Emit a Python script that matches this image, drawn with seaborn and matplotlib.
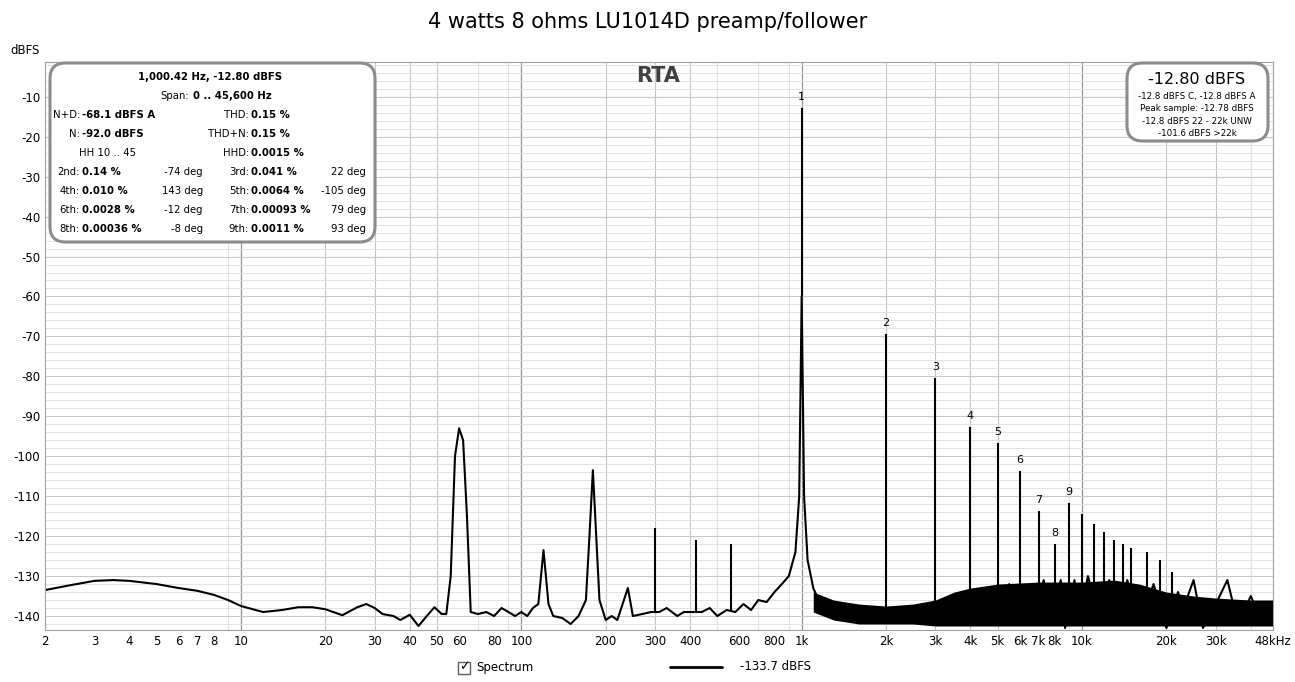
import matplotlib
matplotlib.use("Agg")
import matplotlib.pyplot as plt
from matplotlib.patches import FancyBboxPatch, Rectangle
from matplotlib.ticker import FixedLocator, NullFormatter
import numpy as np
import pandas as pd
import seaborn as sns

sns.set_style("white")
plt.rcParams['font.family'] = ['DejaVu Sans']
plt.rcParams['text.color'] = 'black'
plt.rcParams['xtick.color'] = 'black'
plt.rcParams['ytick.color'] = 'black'

# noise floor / hum (Hz, dBFS)
floor_f = [2, 2.5, 3, 3.5, 4, 5, 6, 7, 8, 9, 10, 12, 14, 16, 18, 20, 23, 26, 28, 30, 32, 35, 37, 40, 43, 46,
           49, 52, 54, 56, 58, 60, 62, 64, 66, 70, 75, 80, 85, 90, 95, 100, 105, 110, 115, 120, 125, 130,
           140, 150, 160, 170, 175, 180, 185, 190, 200, 210, 220, 240, 250, 270, 290, 310, 330, 360, 380,
           400, 440, 470, 500, 540, 580, 620, 660, 700, 750, 800, 850, 900, 950, 980, 1000, 1020, 1050,
           1100, 1150, 1200, 1300, 1400, 1500, 1600, 1700, 1800, 1900, 2050, 2200, 2400, 2600, 2800,
           3100, 3300, 3600, 3800, 4100, 4400, 4700, 5200, 5500, 5800, 6300, 6700, 7300, 7700, 8400,
           8700, 9400, 9700, 10500, 11500, 12500, 13500, 14500, 16000, 18000, 20000, 22000, 23000,
           25000, 27000, 30000, 33000, 36000, 40000, 44000, 48000]
floor_db = [-133.5, -132.2, -131.2, -131, -131.2, -132, -133, -133.7, -134.7, -136, -137.5, -139, -138.5,
            -137.8, -137.8, -138.3, -139.8, -137.8, -137, -138, -139.5, -140, -141, -139.7, -142.5, -140,
            -137.8, -139.5, -139.5, -130, -100, -93, -96, -115, -139, -139.5, -139, -140, -138, -139,
            -140, -139, -140, -138, -137, -123.5, -137, -140, -140.5, -142, -140, -136, -120, -103.5,
            -120, -136, -141, -140, -141, -133, -140, -139.5, -139, -139, -138, -140, -139, -139, -139,
            -138, -140, -138.5, -139, -137, -138.5, -136, -136.5, -134, -132, -130, -124, -110, -60,
            -110, -126, -133, -136, -138, -139, -141, -138, -140, -138.5, -141, -139, -139, -140, -138,
            -141, -138, -139, -137, -141, -136, -140, -134, -141, -135, -132, -141, -133, -141, -131,
            -142, -131, -143, -131, -142, -130, -141, -131, -142, -131, -142, -132, -143, -134, -138,
            -131, -143, -137, -131, -142, -135, -142, -137]

# dense noise band above 1 kHz (upper / lower envelope)
band_f = [1100, 1300, 1600, 2000, 2500, 3000, 3500, 4000, 5000, 7000, 10000, 13000, 16000, 20000,
          25000, 30000, 40000, 48000]
band_hi = [-134, -136, -137, -137.5, -137, -136, -134, -133, -132, -131.5, -131.5, -131, -132, -134,
           -135, -135.5, -136, -136]
band_lo = [-139, -141, -142, -142, -142, -142.5, -142.5, -142.5, -142.5, -142.5, -142.5, -142.5, -142.5,
           -142.5, -142.5, -142.5, -142.5, -142.5]

# spikes: fundamental, harmonics and other tones
spike_f = [300, 420, 560, 240, 1000, 2000, 3000, 4000, 5000, 6000, 7000, 8000, 9000, 10000, 11000,
           12000, 13000, 14000, 15000, 17000, 19000, 21000, 25000]
spike_db = [-118, -121, -122, -133, -12.8, -69.5, -80.5, -92.8, -96.7, -103.8, -113.8, -122, -111.8,
            -114.5, -117, -119, -121, -122, -123, -124, -126, -129, -131]
harm_labels = ['1', '2', '3', '4', '5', '6', '7', '8', '9']
harm_f = [1000, 2000, 3000, 4000, 5000, 6000, 7000, 8000, 9000]
harm_db = [-12.8, -69.5, -80.5, -92.8, -96.7, -103.8, -113.8, -122, -111.8]

W, H = 1295, 682
fig = plt.figure(figsize=(W / 100, H / 100), dpi=100)
ax = fig.add_axes([45 / W, 1 - 630 / H, (1273 - 45) / W, (630 - 62) / H])

df = pd.DataFrame({'f': floor_f, 'db': floor_db})
sns.lineplot(data=df, x='f', y='db', ax=ax, color='black', lw=1.5, sort=False)
ax.fill_between(band_f, band_lo, band_hi, color='black', lw=0)
floor_at = np.interp(np.log(spike_f), np.log(floor_f), floor_db)
ax.vlines(spike_f, floor_at, spike_db, color='black', lw=1.5)
for lab, f, d in zip(harm_labels, harm_f, harm_db):
    ax.text(f, d + 1.5, lab, ha='center', va='bottom', fontsize=8)

ax.set_xscale('log')
ax.set_xlim(2, 48000)
ax.set_ylim(-143.5, -1.3)
major = [10, 100, 1000, 10000]
minor = [m * 10 ** e for e in range(0, 5) for m in range(2, 10) if 2 <= m * 10 ** e <= 48000]
xt = [2, 3, 4, 5, 6, 7, 8, 10, 20, 30, 40, 50, 60, 80, 100, 200, 300, 400, 600, 800, 1000, 2000, 3000,
      4000, 5000, 6000, 7000, 8000, 10000, 20000, 30000, 48000]
xl = ['2', '3', '4', '5', '6', '7', '8', '10', '20', '30', '40', '50', '60', '80', '100', '200', '300',
      '400', '600', '800', '1k', '2k', '3k', '4k', '5k', '6k', '7k', '8k', '10k', '20k', '30k', '48kHz']
ax.set_xticks(xt, xl, fontsize=8.5)
ax.xaxis.set_minor_locator(FixedLocator(minor))
ax.xaxis.set_minor_formatter(NullFormatter())
ax.set_yticks(np.arange(-140, 0, 10), [str(v) for v in range(-140, 0, 10)], fontsize=8.5)
ax.set_yticks(np.arange(-142, -1, 2), minor=True)
ax.tick_params(which='both', length=0)
ax.grid(which='minor', color='#e2e2e2', lw=0.7)
ax.grid(which='major', axis='y', color='#c8c8c8', lw=0.8)
for x in major:
    ax.axvline(x, color='#909090', lw=0.9, zorder=0.5)
for x in [20, 30, 40, 50, 200, 300, 400, 500, 2000, 3000, 4000, 5000, 20000, 30000, 40000]:
    ax.axvline(x, color='#c4c4c4', lw=0.8, zorder=0.4)
ax.set_xlabel('')
ax.set_ylabel('')
for s in ax.spines.values():
    s.set_color('#a0a0a0')

def fx(px): return px / W
def fy(py): return 1 - py / H

fig.text(0.5, fy(22), '4 watts 8 ohms LU1014D preamp/follower', ha='center', va='center', fontsize=15)
fig.text(fx(10), fy(50), 'dBFS', fontsize=8.5, va='center')
fig.text(fx(658), fy(76), 'RTA', fontsize=15, weight='bold', color='#404040', ha='center', va='center')

for (x0, y0, x1, y1) in [(50, 63, 375, 242), (1127, 63, 1268, 141)]:
    fig.patches.append(FancyBboxPatch((fx(x0), fy(y1)), fx(x1 - x0), (y1 - y0) / H,
                                      boxstyle='round,pad=0,rounding_size=0.012', transform=fig.transFigure,
                                      fc='white', ec='#8c8c8c', lw=2.2, mutation_aspect=W / H, zorder=5))

fs = 7.3
def t(x, y, s, ha='left', bold=False):
    fig.text(fx(x), fy(y), s, fontsize=fs, ha=ha, va='center', weight='bold' if bold else 'normal', zorder=6)

t(210, 77, '1,000.42 Hz, -12.80 dBFS', 'center', True)
t(160, 96, 'Span:', 'left'); t(193, 96, '0 .. 45,600 Hz', 'left', True)
rows = [('N+D:', '-68.1 dBFS A', 'THD:', '0.15 %'),
        ('N:', '-92.0 dBFS', 'THD+N:', '0.15 %'),
        (None, None, 'HHD:', '0.0015 %')]
for i, (a, b, c, d) in enumerate(rows):
    y = 115 + 19 * i
    if a:
        t(80, y, a, 'right'); t(82, y, b, 'left', True)
    t(249, y, c, 'right'); t(251, y, d, 'left', True)
t(108, 153, 'HH 10 .. 45', 'center')
harm_rows = [('2nd:', '0.14 %', '-74 deg', '3rd:', '0.041 %', '22 deg'),
             ('4th:', '0.010 %', '143 deg', '5th:', '0.0064 %', '-105 deg'),
             ('6th:', '0.0028 %', '-12 deg', '7th:', '0.00093 %', '79 deg'),
             ('8th:', '0.00036 %', '-8 deg', '9th:', '0.0011 %', '93 deg')]
for i, (a, b, c, d, e, g) in enumerate(harm_rows):
    y = 172 + 19 * i
    t(80, y, a, 'right'); t(82, y, b, 'left', True); t(203, y, c, 'right')
    t(249, y, d, 'right'); t(251, y, e, 'left', True); t(366, y, g, 'right')

fig.text(fx(1197), fy(79), '-12.80 dBFS', fontsize=11.5, ha='center', va='center', zorder=6)
for i, s in enumerate(['-12.8 dBFS C, -12.8 dBFS A', 'Peak sample: -12.78 dBFS',
                       '-12.8 dBFS 22 - 22k UNW', '-101.6 dBFS >22k']):
    fig.text(fx(1197), fy(96 + 12.5 * i), s, fontsize=6.3, ha='center', va='center', zorder=6)

# legend row
fig.patches.append(Rectangle((fx(458), fy(674)), fx(12), 12 / H, transform=fig.transFigure,
                             fc='white', ec='#606060', lw=1))
fig.text(fx(464), fy(667), '\u2713', fontsize=9, ha='center', va='center')
fig.text(fx(476), fy(667), 'Spectrum', fontsize=8.5, va='center')
fig.lines.append(plt.Line2D([fx(670), fx(722)], [fy(667), fy(667)], transform=fig.transFigure,
                            color='black', lw=2))
fig.text(fx(740), fy(667), '-133.7 dBFS', fontsize=8.5, va='center')

fig.savefig('out.png', dpi=100)
